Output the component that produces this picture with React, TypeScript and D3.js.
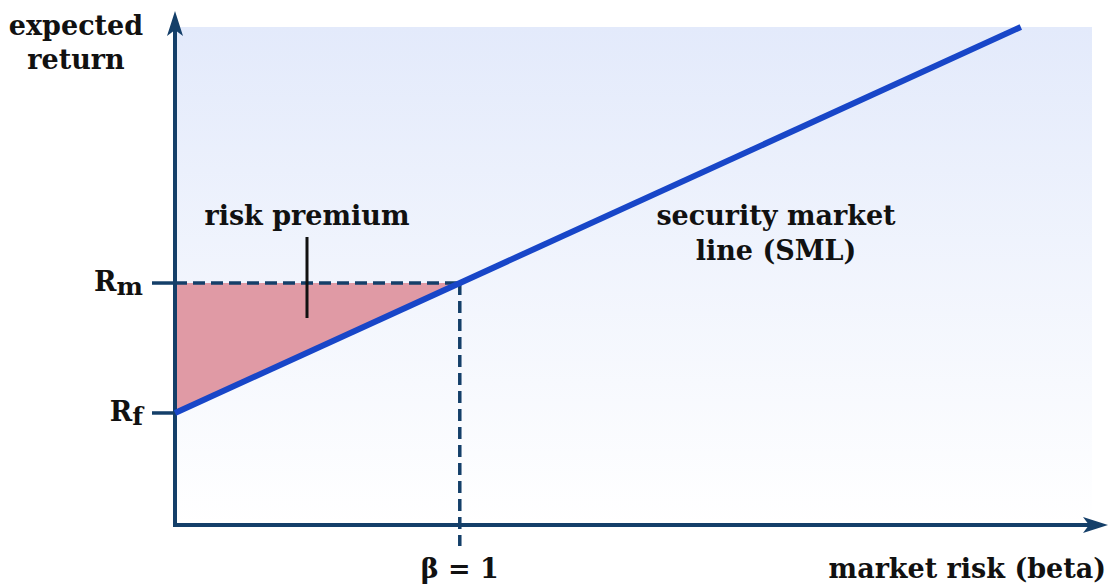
import React from "react";
import * as d3 from "d3";

// Security market line: expected return = Rf + beta * (Rm - Rf)
const riskFree = 3; // Rf
const marketReturn = 8; // Rm
const marketBeta = 1;
const betaDomain = [0, 3.22];
const returnDomain = [-1.31, 17.85];
const yTickLabels = [
  { base: "R", sub: "m", value: marketReturn },
  { base: "R", sub: "f", value: riskFree },
];
const xTickLabel = "β = 1";

const W = 1113;
const H = 584;
const left = 175;
const right = 1092;
const top = 27;
const bottom = 525;

const FONT = "'DejaVu Serif', 'Liberation Serif', serif";
const AXIS = "#143f69";
const SML = "#1846c8";

export default function App() {
  const x = d3.scaleLinear().domain(betaDomain).range([left, right]);
  const y = d3.scaleLinear().domain(returnDomain).range([bottom, top]);

  const sml = (b: number) => riskFree + b * (marketReturn - riskFree);
  const betaTop = (returnDomain[1] - riskFree) / (marketReturn - riskFree);

  const linePath = d3.line<number>()
    .x((b) => x(b))
    .y((b) => y(sml(b)))([0, betaTop]);

  const premiumArea = d3.line<[number, number]>()
    .x((d) => x(d[0]))
    .y((d) => y(d[1]))([
      [0, riskFree],
      [0, marketReturn],
      [marketBeta, marketReturn],
    ]) + "Z";

  const xm = x(marketBeta);
  const ym = y(marketReturn);

  // arrowhead tips
  const xTip = 1108;
  const yTip = 11;

  return (
    <svg width={W} height={H} style={{ position: "absolute", left: 0, top: 0 }}>
      <defs>
        <linearGradient id="bg" x1="0" y1="0" x2="0" y2="1">
          <stop offset="0" stopColor="#e3eafb" />
          <stop offset="1" stopColor="#ffffff" />
        </linearGradient>
      </defs>
      <rect x={0} y={0} width={W} height={H} fill="#ffffff" />
      <rect x={left} y={top} width={right - left} height={bottom - top} fill="url(#bg)" />

      {/* risk premium region */}
      <path d={premiumArea} fill="#e09aa5" />

      {/* reference dashes at the market portfolio */}
      <line x1={left} x2={xm} y1={ym} y2={ym} stroke={AXIS} strokeWidth={3.5} strokeDasharray="12 6" />
      <line x1={xm} x2={xm} y1={ym} y2={546} stroke={AXIS} strokeWidth={3.5} strokeDasharray="12 6" />

      {/* axes */}
      <line x1={left - 2} x2={xTip - 12} y1={bottom} y2={bottom} stroke={AXIS} strokeWidth={4} />
      <path d={`M${xTip},${bottom} L${xTip - 25},${bottom - 8} L${xTip - 19},${bottom} L${xTip - 25},${bottom + 8} Z`} fill={AXIS} />
      <line x1={left} x2={left} y1={bottom + 2} y2={yTip + 12} stroke={AXIS} strokeWidth={4} />
      <path d={`M${left},${yTip} L${left - 8},${yTip + 25} L${left},${yTip + 19} L${left + 8},${yTip + 25} Z`} fill={AXIS} />

      {/* y ticks */}
      {yTickLabels.map((t) => (
        <g key={t.sub}>
          <line x1={152} x2={left} y1={y(t.value)} y2={y(t.value)} stroke={AXIS} strokeWidth={3.5} />
          <text x={143} y={y(t.value) + 8} textAnchor="end" fontFamily={FONT} fontWeight="bold" fontSize={27} fill="#111">
            {t.base}
            <tspan fontSize={25} dy={4}>{t.sub}</tspan>
          </text>
        </g>
      ))}

      {/* SML */}
      <path d={linePath ?? ""} fill="none" stroke={SML} strokeWidth={6} />

      {/* risk premium pointer */}
      <line x1={307} x2={307} y1={237} y2={318} stroke="#111" strokeWidth={3} />

      <g fontFamily={FONT} fontWeight="bold" fill="#111" fontSize={27}>
        <text x={76} y={35} textAnchor="middle">expected</text>
        <text x={76} y={69} textAnchor="middle">return</text>
        <text x={307} y={225} textAnchor="middle">risk premium</text>
        <text x={776} y={225} textAnchor="middle">security market</text>
        <text x={776} y={260} textAnchor="middle">line (SML)</text>
        <text x={xm} y={578} textAnchor="middle">{xTickLabel}</text>
        <text x={1106} y={578} textAnchor="end">market risk (beta)</text>
      </g>
    </svg>
  );
}
